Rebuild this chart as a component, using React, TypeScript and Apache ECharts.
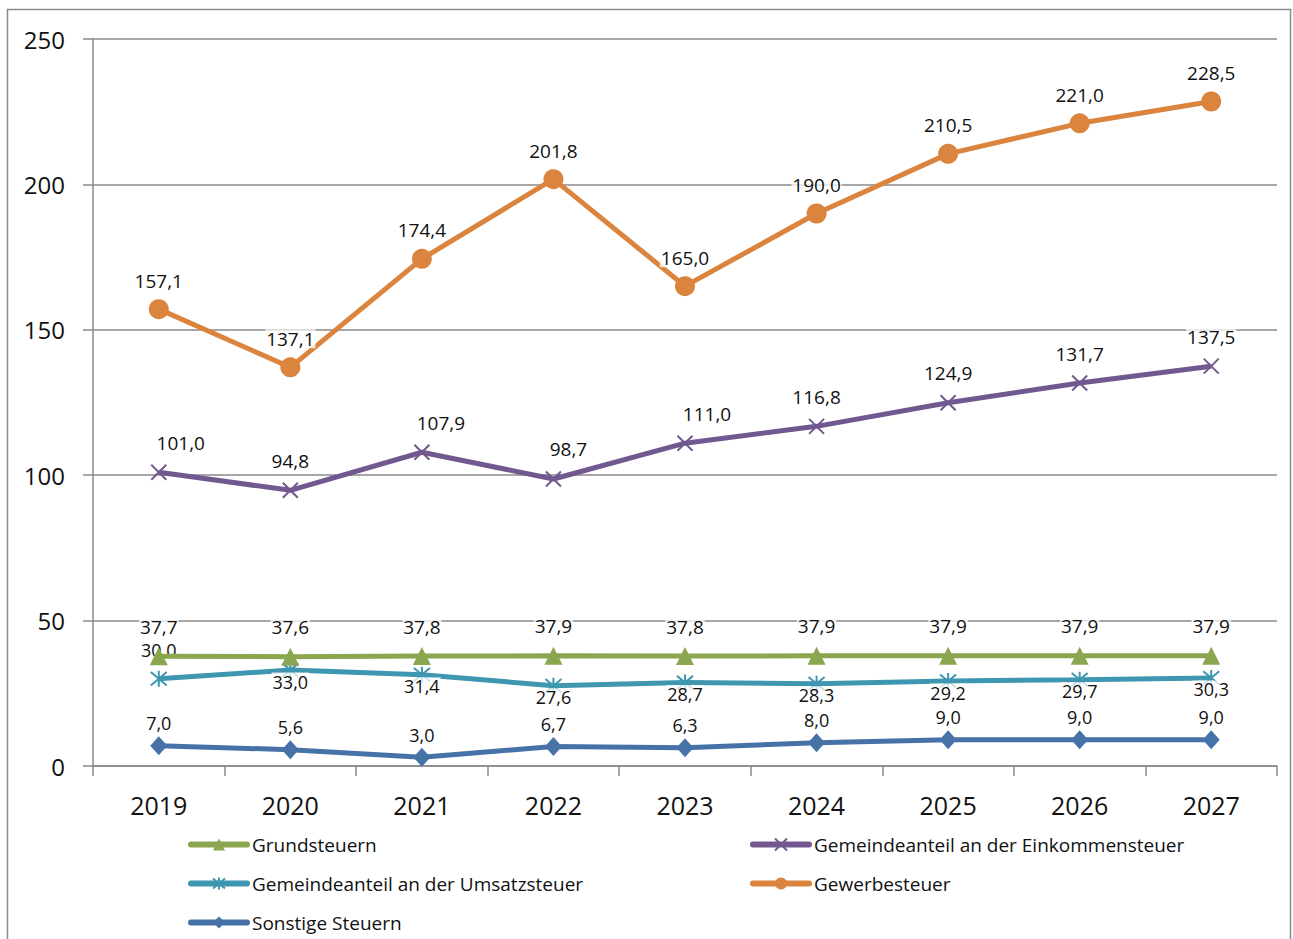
import React, { useEffect, useRef } from "react";
import * as echarts from "echarts";

const years = ["2019", "2020", "2021", "2022", "2023", "2024", "2025", "2026", "2027"];
const grundsteuern = [37.7, 37.6, 37.8, 37.9, 37.8, 37.9, 37.9, 37.9, 37.9];
const einkommensteuer = [101.0, 94.8, 107.9, 98.7, 111.0, 116.8, 124.9, 131.7, 137.5];
const umsatzsteuer = [30.0, 33.0, 31.4, 27.6, 28.7, 28.3, 29.2, 29.7, 30.3];
const gewerbesteuer = [157.1, 137.1, 174.4, 201.8, 165.0, 190.0, 210.5, 221.0, 228.5];
const sonstige = [7.0, 5.6, 3.0, 6.7, 6.3, 8.0, 9.0, 9.0, 9.0];
const yTicks = [0, 50, 100, 150, 200, 250];

// horizontal label shifts (style only) for the Einkommensteuer labels
const einkLabelShift = [22, 0, 19, 15, 22, 0, 0, 0, 0];

const FONT = "'Open Sans', sans-serif";
const fmt = (v: number) => v.toFixed(1).replace(".", ",");

const labelBase = {
  show: true,
  fontFamily: FONT,
  fontSize: 19,
  color: "#111",
  backgroundColor: "rgba(255,255,255,0.75)",
  padding: [0, 1],
  formatter: (p: any) => fmt(p.value),
};

const legendBase = {
  orient: "vertical",
  top: 835,
  padding: 0,
  itemWidth: 56,
  itemHeight: 15,
  itemGap: 20,
  lineStyle: { width: 6, cap: "round" },
  textStyle: { fontFamily: FONT, fontSize: 19, color: "#111" },
};

export default function App() {
  const ref = useRef<HTMLDivElement>(null);
  useEffect(() => {
    document.body.style.margin = "0";
    const chart = echarts.init(ref.current!, null, { renderer: "svg" });
    const crossPath = "path://M0 0 L10 10 M10 0 L0 10";
    const starPath = "path://M0 0 L10 10 M10 0 L0 10 M5 -1 L5 11";
    const option: any = {
      animation: false,
      backgroundColor: "#fff",
      textStyle: { fontFamily: FONT },
      grid: { left: 93, right: 16, top: 39, bottom: 173 },
      graphic: [
        {
          type: "rect",
          shape: { x: 7.5, y: 9.5, width: 1283, height: 960 },
          style: { fill: "none", stroke: "#8a8a8a", lineWidth: 1.5 },
          silent: true,
        },
      ],
      xAxis: {
        type: "category",
        data: years,
        boundaryGap: true,
        axisLine: { show: true, lineStyle: { color: "#8a8a8a", width: 1.5 } },
        axisTick: { show: true, length: 10, lineStyle: { color: "#8a8a8a", width: 1.5 } },
        axisLabel: { fontFamily: FONT, fontSize: 25, color: "#111", margin: 26 },
        splitLine: { show: false },
      },
      yAxis: {
        type: "value",
        min: yTicks[0],
        max: yTicks[yTicks.length - 1],
        interval: 50,
        axisLine: { show: true, lineStyle: { color: "#8a8a8a", width: 1.5 } },
        axisTick: { show: true, length: 10, lineStyle: { color: "#8a8a8a", width: 1.5 } },
        axisLabel: { fontFamily: FONT, fontSize: 24, color: "#111", margin: 28 },
        splitLine: { show: true, lineStyle: { color: "#8a8a8a", width: 1.5 } },
      },
      legend: [
        {
          ...legendBase,
          data: ["Grundsteuern", "Gemeindeanteil an der Umsatzsteuer", "Sonstige Steuern"],
          left: 188,
        },
        {
          ...legendBase,
          data: ["Gemeindeanteil an der Einkommensteuer", "Gewerbesteuer"],
          left: 750,
        },
      ],
      series: [
        {
          name: "Grundsteuern",
          type: "line",
          data: grundsteuern,
          color: "#8aa64e",
          lineStyle: { width: 5, color: "#8aa64e" },
          symbol: "triangle",
          symbolSize: [18, 18],
          itemStyle: { color: "#8aa64e" },
          label: { ...labelBase, position: "top", distance: 11 },
          z: 3,
        },
        {
          name: "Gemeindeanteil an der Einkommensteuer",
          type: "line",
          data: einkommensteuer.map((v, i) => ({
            value: v,
            label: { offset: [einkLabelShift[i], 0] },
          })),
          color: "#71588f",
          lineStyle: { width: 5, color: "#71588f" },
          symbol: crossPath,
          symbolSize: 15,
          itemStyle: { color: "none", borderColor: "#71588f", borderWidth: 2 },
          label: { ...labelBase, position: "top", distance: 10 },
          z: 4,
        },
        {
          name: "Gemeindeanteil an der Umsatzsteuer",
          type: "line",
          data: umsatzsteuer.map((v, i) =>
            i === 0 ? { value: v, label: { position: "top", distance: 9 } } : v
          ),
          color: "#3f96b0",
          lineStyle: { width: 5, color: "#3f96b0" },
          symbol: starPath,
          symbolSize: 16,
          itemStyle: { color: "none", borderColor: "#3f96b0", borderWidth: 2 },
          label: { ...labelBase, fontSize: 18, position: "bottom", distance: -8 },
          z: 2,
        },
        {
          name: "Gewerbesteuer",
          type: "line",
          data: gewerbesteuer,
          color: "#db843d",
          lineStyle: { width: 5, color: "#db843d" },
          symbol: "circle",
          symbolSize: 20,
          itemStyle: { color: "#db843d" },
          label: { ...labelBase, position: "top", distance: 9 },
          z: 5,
        },
        {
          name: "Sonstige Steuern",
          type: "line",
          data: sonstige,
          color: "#4672a8",
          lineStyle: { width: 5, color: "#4672a8" },
          symbol: "diamond",
          symbolSize: [17, 19],
          itemStyle: { color: "#4672a8" },
          label: { ...labelBase, fontSize: 18, position: "top", distance: 4 },
          z: 1,
        },
      ],
    };
    chart.setOption(option);
    return () => chart.dispose();
  }, []);
  return <div ref={ref} style={{ width: 1293, height: 939 }} />;
}
